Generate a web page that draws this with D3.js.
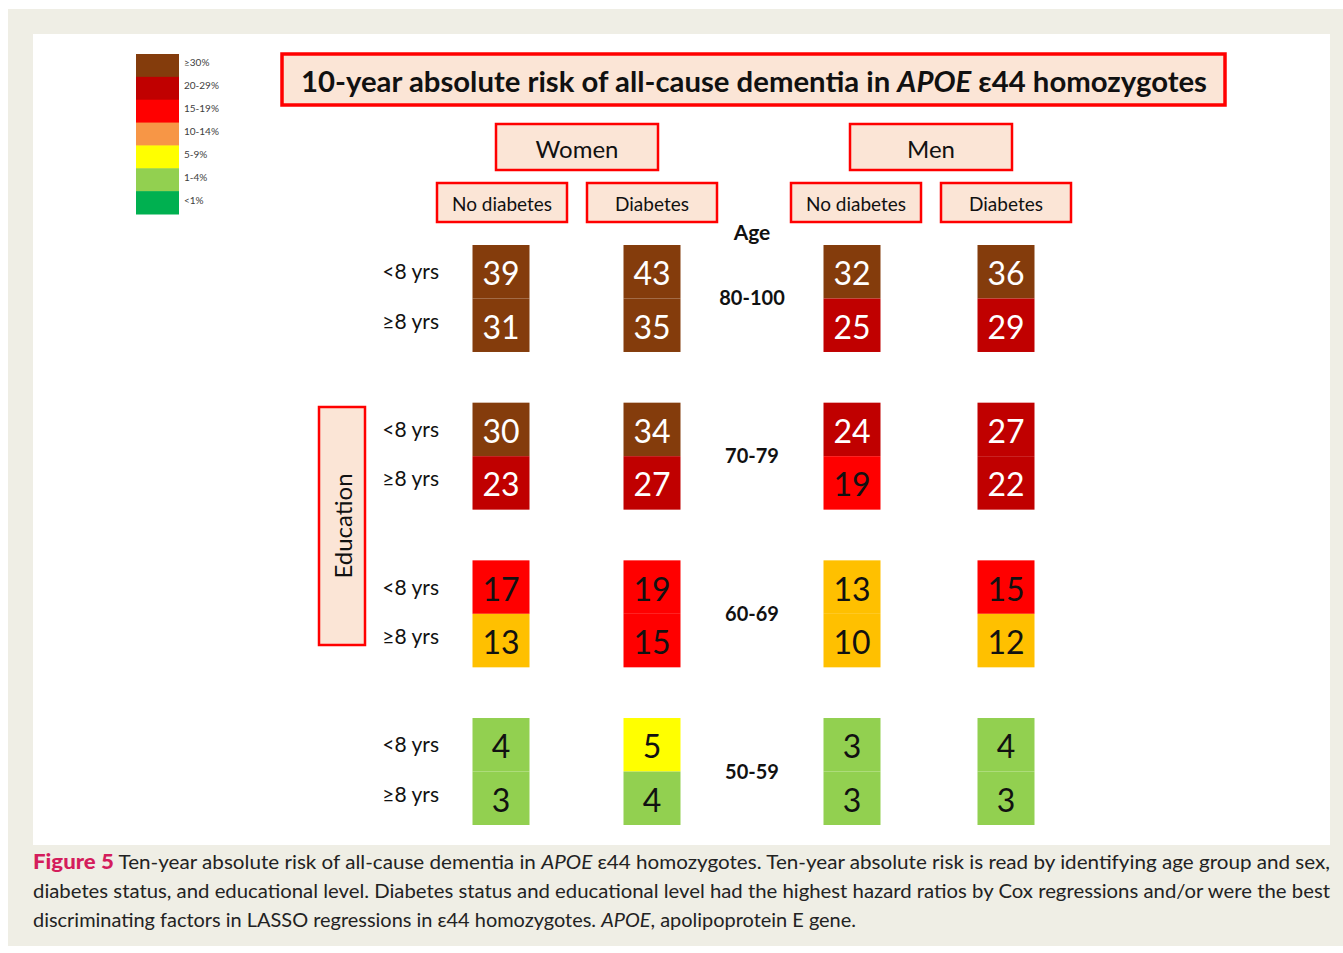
<!DOCTYPE html>
<html><head><meta charset="utf-8">
<script src="https://cdn.jsdelivr.net/npm/d3@7/dist/d3.min.js"></script>
<style>body{margin:0;background:#fff}svg{display:block}</style>
</head><body>
<script>
// ---- data ----
const sexes = ["Women", "Men"];
const diabetesGroups = ["No diabetes", "Diabetes"];
const ageGroups = ["80-100", "70-79", "60-69", "50-59"];
const eduGroups = ["<8 yrs", "≥8 yrs"];
// risk values [age][edu] per sex/diabetes column
const womenNoDiabetes = [[39, 31], [30, 23], [17, 13], [4, 3]];
const womenDiabetes   = [[43, 35], [34, 27], [19, 15], [5, 4]];
const menNoDiabetes   = [[32, 25], [24, 19], [13, 10], [3, 3]];
const menDiabetes     = [[36, 29], [27, 22], [15, 12], [4, 3]];
const legendLabels = ["≥30%", "20-29%", "15-19%", "10-14%", "5-9%", "1-4%", "<1%"];
const legendColors = ["#843C0C", "#C00000", "#FF0000", "#F79646", "#FFFF00", "#92D050", "#00B050"];
const cellColors   = ["#843C0C", "#C00000", "#FF0000", "#FFC000", "#FFFF00", "#92D050", "#00B050"];
const thresholds = [1, 5, 10, 15, 20, 30];
const titleText = "10-year absolute risk of all-cause dementia in ";
const captionLines = [
  "Ten-year absolute risk of all-cause dementia in APOE ε44 homozygotes. Ten-year absolute risk is read by identifying age group and sex,",
  "diabetes status, and educational level. Diabetes status and educational level had the highest hazard ratios by Cox regressions and/or were the best",
  "discriminating factors in LASSO regressions in ε44 homozygotes. APOE, apolipoprotein E gene."
];

const W = 1343, H = 953;
const svg = d3.select("body").append("svg").attr("width", W).attr("height", H);
const font = "Lato, 'Open Sans', sans-serif";

svg.append("rect").attr("x", 8).attr("y", 9).attr("width", W - 8).attr("height", 937).attr("fill", "#EFEEE5");
svg.append("rect").attr("x", 33).attr("y", 34).attr("width", 1297).attr("height", 811).attr("fill", "#fff");

const colorScale = d3.scaleThreshold().domain(thresholds).range(cellColors.slice().reverse());
const boxFill = "#FBE5D6", boxStroke = "#FF0000";

// scales
const xSex = d3.scalePoint().domain(sexes).range([577, 931]);
const xDia = d3.scalePoint().domain(diabetesGroups).range([-75, 75]);
const yAge = d3.scaleBand().domain(ageGroups).range([245, 825]).paddingInner(0.3215).paddingOuter(0);
const yEdu = d3.scaleBand().domain(eduGroups).range([0, yAge.bandwidth()]);
const cellW = 57;
const cellX = {
  "Women|No diabetes": -1, "Women|Diabetes": 0, "Men|No diabetes": -4, "Men|Diabetes": 0
};

const columns = [
  {sex: "Women", dia: "No diabetes", vals: womenNoDiabetes},
  {sex: "Women", dia: "Diabetes", vals: womenDiabetes},
  {sex: "Men", dia: "No diabetes", vals: menNoDiabetes},
  {sex: "Men", dia: "Diabetes", vals: menDiabetes}
];

// title box
const tb = svg.append("g");
tb.append("rect").attr("x", 282).attr("y", 54).attr("width", 943).attr("height", 51)
  .attr("fill", boxFill).attr("stroke", boxStroke).attr("stroke-width", 3.5);
const tt = tb.append("text").attr("x", 301).attr("y", 80)
  .attr("dominant-baseline", "central").attr("font-family", font).attr("font-weight", 700)
  .attr("font-size", 29).attr("fill", "#111");
tt.append("tspan").text(titleText);
tt.append("tspan").attr("font-style", "italic").text("APOE");
tt.append("tspan").text(" ε44 homozygotes");
tt.attr("textLength", 906).attr("lengthAdjust", "spacingAndGlyphs");

// sex headers
sexes.forEach(s => {
  const cx = xSex(s);
  svg.append("rect").attr("x", cx - 81).attr("y", 124).attr("width", 162).attr("height", 46)
    .attr("fill", boxFill).attr("stroke", boxStroke).attr("stroke-width", 2.5);
  svg.append("text").attr("x", cx).attr("y", 148).attr("text-anchor", "middle")
    .attr("dominant-baseline", "central").attr("font-family", font).attr("font-size", 24)
    .attr("fill", "#111").text(s);
  diabetesGroups.forEach(d => {
    const dx = cx + xDia(d);
    svg.append("rect").attr("x", dx - 65).attr("y", 183).attr("width", 130).attr("height", 39)
      .attr("fill", boxFill).attr("stroke", boxStroke).attr("stroke-width", 2.5);
    svg.append("text").attr("x", dx).attr("y", 203).attr("text-anchor", "middle")
      .attr("dominant-baseline", "central").attr("font-family", font).attr("font-size", 19)
      .attr("fill", "#111").text(d);
  });
});

// Age label and age groups
const midX = 752;
svg.append("text").attr("x", midX).attr("y", 231).attr("text-anchor", "middle")
  .attr("dominant-baseline", "central").attr("font-family", font).attr("font-weight", 700)
  .attr("font-size", 21).attr("fill", "#111").text("Age");
ageGroups.forEach(a => {
  svg.append("text").attr("x", midX).attr("y", yAge(a) + yAge.bandwidth() / 2 - 1)
    .attr("text-anchor", "middle").attr("dominant-baseline", "central")
    .attr("font-family", font).attr("font-weight", 700).attr("font-size", 20)
    .attr("fill", "#111").text(a);
  eduGroups.forEach((e, i) => {
    svg.append("text").attr("x", 439).attr("y", yAge(a) + yEdu(e) + yEdu.bandwidth() / 2 + (i ? -5 : -1))
      .attr("text-anchor", "end").attr("dominant-baseline", "central")
      .attr("font-family", font).attr("font-size", 21).attr("fill", "#111").text(e);
  });
});

// cells
columns.forEach(col => {
  const cx = xSex(col.sex) + xDia(col.dia) + cellX[col.sex + "|" + col.dia];
  ageGroups.forEach((a, ai) => {
    eduGroups.forEach((e, ei) => {
      const v = col.vals[ai][ei];
      const y0 = yAge(a) + yEdu(e);
      svg.append("rect").attr("x", cx - cellW / 2).attr("y", y0).attr("width", cellW)
        .attr("height", yEdu.bandwidth()).attr("fill", colorScale(v));
      svg.append("text").attr("x", cx).attr("y", y0 + yEdu.bandwidth() / 2 + 1)
        .attr("text-anchor", "middle").attr("dominant-baseline", "central")
        .attr("font-family", font).attr("font-size", 32)
        .attr("fill", v >= 20 ? "#fff" : "#111").text(v);
    });
  });
});

// Education box
svg.append("rect").attr("x", 319).attr("y", 407).attr("width", 46).attr("height", 238)
  .attr("fill", boxFill).attr("stroke", boxStroke).attr("stroke-width", 2.5);
svg.append("text").attr("transform", "translate(342,526) rotate(-90)")
  .attr("text-anchor", "middle").attr("dominant-baseline", "central")
  .attr("font-family", font).attr("font-size", 24).attr("fill", "#111").text("Education");

// legend
const ly = d3.scaleBand().domain(legendLabels).range([54, 214]);
legendLabels.forEach((l, i) => {
  svg.append("rect").attr("x", 136).attr("y", ly(l)).attr("width", 43).attr("height", ly.bandwidth() + 0.5)
    .attr("fill", legendColors[i]);
  svg.append("text").attr("x", 184).attr("y", ly(l) + ly.bandwidth() / 2 - 3)
    .attr("dominant-baseline", "central").attr("font-family", font).attr("font-size", 10)
    .attr("fill", "#404040").text(l);
});

// caption
const capFont = "'Gill Sans', Lato, 'Open Sans', sans-serif";
const c1 = svg.append("text").attr("x", 33).attr("y", 869).attr("font-family", capFont)
  .attr("font-size", 19.5).attr("fill", "#222");
c1.append("tspan").attr("fill", "#D41D5C").attr("font-weight", 900).attr("font-size", 21).text("Figure 5");
const parts1 = captionLines[0].split("APOE");
c1.append("tspan").text(" " + parts1[0]);
c1.append("tspan").attr("font-style", "italic").text("APOE");
c1.append("tspan").text(parts1[1]);
c1.attr("textLength", 1297).attr("lengthAdjust", "spacingAndGlyphs");

svg.append("text").attr("x", 33).attr("y", 898).attr("font-family", capFont)
  .attr("font-size", 19.5).attr("fill", "#222").attr("textLength", 1297)
  .attr("lengthAdjust", "spacingAndGlyphs").text(captionLines[1]);

const c3 = svg.append("text").attr("x", 33).attr("y", 927).attr("font-family", capFont)
  .attr("font-size", 19.5).attr("fill", "#222");
const parts3 = captionLines[2].split("APOE");
c3.append("tspan").text(parts3[0]);
c3.append("tspan").attr("font-style", "italic").text("APOE");
c3.append("tspan").text(parts3[1]);
c3.attr("textLength", 823).attr("lengthAdjust", "spacingAndGlyphs");
</script>
</body></html>
